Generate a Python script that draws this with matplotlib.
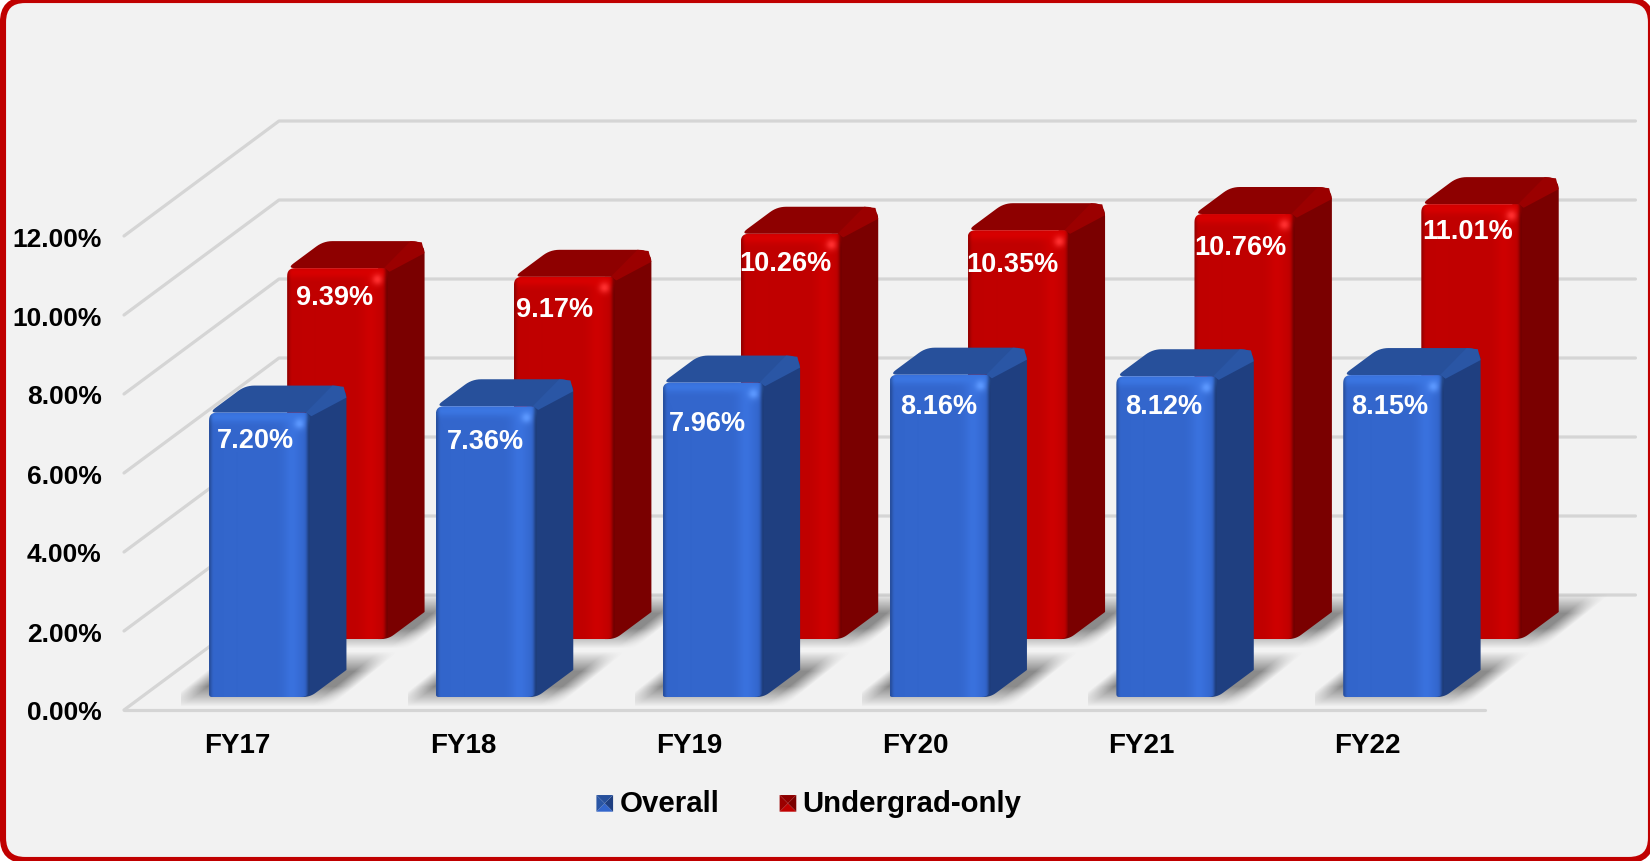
import numpy as np
import matplotlib
matplotlib.use("Agg")
import matplotlib.pyplot as plt
from matplotlib.patches import Polygon, FancyBboxPatch, Patch
from matplotlib.legend_handler import HandlerBase
from matplotlib.transforms import IdentityTransform

plt.rcParams['font.family'] = ['Liberation Sans', 'DejaVu Sans']

# Data
years = ["FY17", "FY18", "FY19", "FY20", "FY21", "FY22"]
overall = [7.20, 7.36, 7.96, 8.16, 8.12, 8.15]
undergrad = [9.39, 9.17, 10.26, 10.35, 10.76, 11.01]
y_ticks = [0, 2, 4, 6, 8, 10, 12]

# hand placed label offsets in the original, pixels
overall_nudge = [(0, 1), (3, 9), (-2, 14), (3, 5), (1, 4), (0, 5)]
undergrad_nudge = [(1, 3), (-6, 6), (-2, 3), (-2, 8), (-1, 7), (0, 1)]

W, H = 1650, 862
LEFT, RIGHT, FLOOR, TOP = 124, 1485, 711, 237  # front plane, pixels from top left
XS = (RIGHT - LEFT) / 6.0   # pixels per category
YS = (FLOOR - TOP) / 12.0   # pixels per percent
DEPTH_X = 155 / XS          # full floor depth in data units
DEPTH_Y = 115 / YS
TICK_STEP = 225.9 / XS

BAR_OFFSET = 67.5 / XS
BAR_W = 101 / XS
BLUE = dict(z0=0.113, side="#1F3F80", top="#27509B", strip="#2A56A5",
            base=(0x33, 0x66, 0xCC), light=(0x3A, 0x72, 0xDE), band=(0x3B, 0x76, 0xE2), glint=(0x5C, 0x98, 0xFF))
RED = dict(z0=0.617, side="#7A0000", top="#8E0000", strip="#9B0000",
           base=(0xC0, 0x00, 0x00), light=(0xCE, 0x00, 0x00), band=(0xD8, 0x00, 0x00), glint=(0xFF, 0x30, 0x30))
BAR_DZ = 0.235


def rounded(points, radii, n=8):
    # round polygon corners, done in pixel space so the radii look even
    p = np.array(points, dtype=float) * [XS, YS]
    out = []
    for i in range(len(p)):
        a, b, c = p[i - 1], p[i], p[(i + 1) % len(p)]
        r = radii[i]
        if r == 0:
            out.append(b)
            continue
        s = b + (a - b) / np.linalg.norm(a - b) * r
        e = b + (c - b) / np.linalg.norm(c - b) * r
        for t in np.linspace(0, 1, n):
            out.append((1 - t) ** 2 * s + 2 * t * (1 - t) * b + t ** 2 * e)
    return np.array(out) / [XS, YS]


def front_image(style, w, h):
    x = np.arange(w)[None, :]
    y = np.arange(h)[:, None]
    base = np.array(style["base"], dtype=float)[None, None, :]
    img = np.ones((h, w, 3)) * base
    strip = np.exp(-((x - (w - 18)) / 9.0) ** 2)
    band = np.exp(-((y - 4) / 6.0) ** 2)
    glint = np.exp(-((x - (w - 11)) ** 2 + (y - 11) ** 2) / 30.0)
    for weight, col in ((strip, style["light"]), (band, style["band"]), (glint, style["glint"])):
        weight = weight[:, :, None]
        img = img * (1 - weight) + np.array(col, dtype=float) * weight
    # darker rim at both sides
    rim = (np.exp(-(x / 2.5) ** 2) * 0.22 + np.exp(-((w - 1 - x) / 3.0) ** 2) * 0.4)[:, :, None]
    img = img * (1 - rim)
    return np.clip(img, 0, 255).astype(np.uint8)


def shadow_image():
    # soft parallelogram lying on the floor, pixels
    w, h = 260, 70
    yy, xx = np.mgrid[0:h, 0:w]
    v = (h - 10 - yy)            # height above the near edge
    u = xx - v * 1.25
    soft = lambda d: np.clip(d / 20.0, 0, 1)
    a = soft(u + 8) * soft(160 - u) * soft(v + 9) * soft(46 - v)
    img = np.zeros((h, w, 4))
    img[..., :3] = 0.3
    img[..., 3] = a * 0.62
    return img


def draw_shadow(ax, i, style, z):
    xl = i - 0.5 + BAR_OFFSET + style["z0"] * DEPTH_X
    y0 = style["z0"] * DEPTH_Y
    im = ax.imshow(shadow_image(), extent=[xl - 28 / XS, xl + 232 / XS, y0 - 10 / YS, y0 + 60 / YS],
                   aspect="auto", zorder=z, interpolation="bilinear")
    im.set_clip_on(False)


def draw_bar(ax, i, value, style, z, nudge):
    xl = i - 0.5 + BAR_OFFSET + style["z0"] * DEPTH_X
    xr = xl + BAR_W
    y0 = style["z0"] * DEPTH_Y
    y1 = y0 + value
    dx = BAR_DZ * DEPTH_X
    dy = BAR_DZ * DEPTH_Y

    top = rounded([(xl, y1), (xl + dx, y1 + dy), (xr + dx, y1 + dy), (xr, y1)], [8, 9, 13, 0])
    ax.add_patch(Polygon(top, fc=style["top"], ec="none", zorder=z, clip_on=False))
    # side runs a little under the front so the rounded foot leaves no gap
    tuck = xr - 10 / XS
    side = rounded([(tuck, y1), (tuck, y0), (xr, y0), (xr + dx, y0 + dy), (xr + dx, y1 + dy), (xr, y1)],
                   [0, 0, 7, 0, 13, 0])
    ax.add_patch(Polygon(side, fc=style["side"], ec="none", zorder=z, clip_on=False))
    # lighter rounded edge between top and side
    ox, oy = 14 / XS, 12 / YS
    strip = [(xr - ox * 0.3, y1), (xr + dx - ox, y1 + dy),
             (xr + dx - ox * 0.2, y1 + dy - oy * 0.1), (xr + dx, y1 + dy - oy), (xr + ox * 0.1, y1 - oy * 0.3)]
    ax.add_patch(Polygon(strip, fc=style["strip"], ec="none", zorder=z, clip_on=False))

    w_px, h_px = int(round(BAR_W * XS)), int(round(value * YS))
    im = ax.imshow(front_image(style, w_px, h_px), extent=[xl, xr, y0, y1], aspect="auto",
                   zorder=z + 0.1, interpolation="bilinear")
    face = Polygon(rounded([(xl, y0), (xl, y1), (xr, y1), (xr, y0)], [3, 8, 6, 9]),
                   transform=ax.transData, fc="none", ec="none")
    im.set_clip_path(face)
    im.set_clip_box(ax.figure.bbox)

    ax.text((xl + xr) / 2 + (nudge[0] - 4) / XS, y1 - (26 + nudge[1]) / YS, "%.2f%%" % value, color="white",
            fontsize=19.5, fontweight="bold", ha="center", va="center", zorder=z + 0.2, clip_on=False)


class PyramidHandler(HandlerBase):
    # little legend square shaded like the 3d bars
    def create_artists(self, legend, orig, xd, yd, width, height, fontsize, trans):
        st = orig.style
        s = 12.0
        x0, y0 = xd * -1, yd * -1 - 0.5
        c = (x0 + s / 2, y0 + s / 2)
        a, b, d, e = (x0, y0), (x0 + s, y0), (x0 + s, y0 + s), (x0, y0 + s)
        cols = ["#%02X%02X%02X" % tuple(st["base"]), st["side"], st["top"], st["strip"]]
        out = []
        for tri, col in zip(([a, b, c], [b, d, c], [d, e, c], [e, a, c]), cols):
            out.append(Polygon(tri, fc=col, ec="none", transform=trans))
        return out


fig = plt.figure(figsize=(W / 100, H / 100), dpi=100, facecolor="white")
fig.add_artist(FancyBboxPatch((3, 1), W - 2, H - 2, boxstyle="round,pad=0,rounding_size=22",
                              transform=IdentityTransform(), fc="#F2F2F2", ec="#C00000", lw=4.4, zorder=-5))

ax = fig.add_axes([LEFT / W, 1 - FLOOR / H, (RIGHT - LEFT) / W, (FLOOR - TOP) / H])
ax.patch.set_visible(False)
ax.set_xlim(-0.5, 5.5)
ax.set_ylim(0, 12)
ax.autoscale(False)
for s in ax.spines.values():
    s.set_visible(False)

ax.set_xticks([i * TICK_STEP for i in range(len(years))])
ax.set_xticklabels(years, fontsize=20, fontweight="bold")
ax.set_yticks(y_ticks)
ax.set_yticklabels(["%.2f%%" % t for t in y_ticks], fontsize=19, fontweight="bold")
ax.tick_params(axis="x", length=0, pad=15.5)
ax.tick_params(axis="y", length=0, pad=16)

# walls and floor
grid = dict(color="#D5D5D5", lw=2.3, zorder=1, clip_on=False, solid_capstyle="round")
for t in y_ticks:
    ax.plot([-0.5, -0.5 + DEPTH_X, 5.48 + DEPTH_X], [t, t + DEPTH_Y, t + DEPTH_Y], **grid)
ax.plot([-0.5, 5.5], [0, 0], **grid)

for i, v in enumerate(undergrad):
    draw_shadow(ax, i, RED, 2)
for i, v in enumerate(undergrad):
    draw_bar(ax, i, v, RED, 3, undergrad_nudge[i])
for i, v in enumerate(overall):
    draw_shadow(ax, i, BLUE, 4)
for i, v in enumerate(overall):
    draw_bar(ax, i, v, BLUE, 5, overall_nudge[i])

h1 = Patch(label="Overall")
h1.style = BLUE
h2 = Patch(label="Undergrad-only")
h2.style = RED
fig.legend(handles=[h1, h2], handler_map={Patch: PyramidHandler()}, ncol=2, frameon=False,
           loc="center", bbox_to_anchor=(809 / W, 1 - 804 / H), prop=dict(size=21.2, weight="bold"),
           handlelength=0.58, handleheight=0.7, handletextpad=0.2, columnspacing=2.05,
           borderpad=0, borderaxespad=0)

fig.savefig("out.png", dpi=100, facecolor="white")
